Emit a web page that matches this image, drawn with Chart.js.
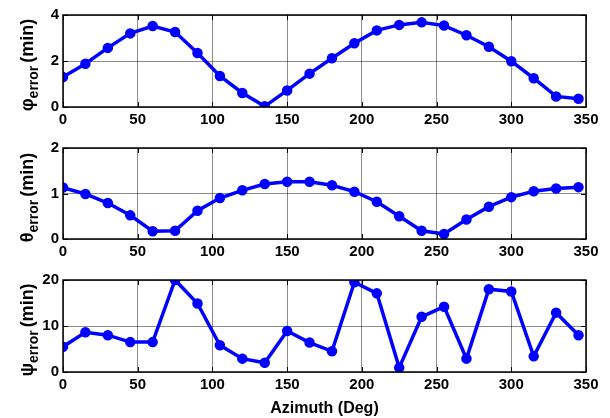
<!DOCTYPE html>
<html>
<head>
<meta charset="utf-8">
<script src="https://cdn.jsdelivr.net/npm/chart.js@4.4.1/dist/chart.umd.min.js"></script>
<style>
  body { margin: 0; background: #fff; }
  .panel { position: absolute; left: 0; }
</style>
</head>
<body>
<div class="panel" style="top:0"><canvas id="phiChart" width="610" height="130"></canvas></div>
<div class="panel" style="top:130px"><canvas id="thetaChart" width="610" height="130"></canvas></div>
<div class="panel" style="top:260px"><canvas id="psiChart" width="610" height="158"></canvas></div>
<script>
// azimuth angles (deg)
const azimuth = [0, 15, 30, 45, 60, 75, 90, 105, 120, 135, 150, 165, 180, 195, 210, 225, 240, 255, 270, 285, 300, 315, 330, 345];

// errors in minutes
const phiError = [1.30, 1.88, 2.57, 3.20, 3.52, 3.26, 2.35, 1.35, 0.61, 0.03, 0.72, 1.45, 2.12, 2.77, 3.33, 3.57, 3.68, 3.54, 3.12, 2.62, 1.99, 1.25, 0.46, 0.36];
const thetaError = [1.13, 0.99, 0.79, 0.52, 0.17, 0.18, 0.62, 0.90, 1.07, 1.21, 1.26, 1.26, 1.18, 1.04, 0.82, 0.50, 0.18, 0.11, 0.43, 0.71, 0.92, 1.05, 1.11, 1.14];
const psiError = [5.5, 8.65, 8.0, 6.5, 6.5, 20.0, 14.9, 5.8, 2.9, 2.0, 8.9, 6.4, 4.5, 19.5, 17.1, 0.95, 12.0, 14.2, 2.9, 18.0, 17.5, 3.4, 12.9, 8.0];

// axis ticks
const xTicks = [0, 50, 100, 150, 200, 250, 300, 350];
const phiTicks = [0, 2, 4];
const thetaTicks = [0, 1, 2];
const psiTicks = [0, 10, 20];

const BLUE = 'rgb(0,0,255)';
const FONT = "'Liberation Sans', Arial, sans-serif";

// black box around the plot + small inward ticks, like matlab
const boxPlugin = {
  id: 'box',
  afterDraw(chart) {
    const { ctx, chartArea: a, scales } = chart;
    ctx.save();
    ctx.strokeStyle = '#000';
    ctx.lineWidth = 1.5;
    ctx.strokeRect(a.left, a.top, a.right - a.left, a.bottom - a.top);
    ctx.lineWidth = 1;
    ctx.beginPath();
    scales.x.ticks.forEach(t => {
      const px = Math.round(scales.x.getPixelForValue(t.value)) + 0.5;
      ctx.moveTo(px, a.bottom); ctx.lineTo(px, a.bottom - 5);
      ctx.moveTo(px, a.top); ctx.lineTo(px, a.top + 5);
    });
    scales.y.ticks.forEach(t => {
      const py = Math.round(scales.y.getPixelForValue(t.value)) + 0.5;
      ctx.moveTo(a.left, py); ctx.lineTo(a.left + 5, py);
      ctx.moveTo(a.right, py); ctx.lineTo(a.right - 5, py);
    });
    ctx.stroke();
    ctx.restore();
  }
};

// rotated y label with a subscript
const yLabelPlugin = {
  id: 'ylabel',
  afterDraw(chart, args, opts) {
    const { ctx, chartArea: a } = chart;
    const main = 'bold 18px ' + FONT;
    const sub = 'bold 14px ' + FONT;
    ctx.save();
    ctx.font = main;
    const w1 = ctx.measureText(opts.symbol).width;
    const w3 = ctx.measureText('(min)').width;
    ctx.font = sub;
    const w2 = ctx.measureText('error').width;
    const total = w1 + w2 + 3 + w3;
    ctx.translate(33, (a.top + a.bottom) / 2 + 4);
    ctx.rotate(-Math.PI / 2);
    ctx.fillStyle = '#000';
    ctx.textBaseline = 'alphabetic';
    let x = -total / 2;
    ctx.font = main;
    ctx.fillText(opts.symbol, x, 0);
    x += w1;
    ctx.font = sub;
    ctx.fillText('error', x, 5);
    x += w2 + 3;
    ctx.font = main;
    ctx.fillText('(min)', x, 0);
    ctx.restore();
  }
};

function makeChart(id, values, yTicks, symbol, padTop, xHeight, showTitle) {
  const ctx = document.getElementById(id).getContext('2d');
  return new Chart(ctx, {
    type: 'line',
    data: {
      datasets: [{
        data: azimuth.map((a, i) => ({ x: a, y: values[i] })),
        borderColor: BLUE,
        backgroundColor: BLUE,
        borderWidth: 3.5,
        pointRadius: 4.5,
        pointBorderWidth: 1.5,
        pointStyle: 'circle',
        tension: 0
      }]
    },
    options: {
      responsive: false,
      animation: false,
      layout: { padding: { top: padTop, right: 24, left: 0, bottom: 0 } },
      plugins: {
        legend: { display: false },
        tooltip: { enabled: false },
        ylabel: { symbol: symbol }
      },
      scales: {
        x: {
          type: 'linear',
          min: 0,
          max: 350,
          afterBuildTicks: s => { s.ticks = xTicks.map(v => ({ value: v })); },
          afterFit: s => { s.height = xHeight; },
          ticks: { color: '#000', font: { family: FONT, size: 15, weight: 'bold' }, padding: 4, maxRotation: 0 },
          grid: { color: 'rgba(0,0,0,0.45)', lineWidth: 1, drawTicks: false },
          border: { display: false },
          title: {
            display: showTitle,
            text: 'Azimuth (Deg)',
            color: '#000',
            font: { family: FONT, size: 16, weight: 'bold' },
            padding: { top: 1, bottom: 0 }
          }
        },
        y: {
          min: yTicks[0],
          max: yTicks[yTicks.length - 1],
          afterBuildTicks: s => { s.ticks = yTicks.map(v => ({ value: v })); },
          afterFit: s => { s.width = 63; },
          ticks: { color: '#000', font: { family: FONT, size: 15, weight: 'bold' }, padding: 4 },
          grid: { color: 'rgba(0,0,0,0.45)', lineWidth: 1, drawTicks: false },
          border: { display: false }
        }
      }
    },
    plugins: [boxPlugin, yLabelPlugin]
  });
}

makeChart('phiChart', phiError, phiTicks, 'φ', 15, 23, false);
makeChart('thetaChart', thetaError, thetaTicks, 'θ', 18, 21, false);
makeChart('psiChart', psiError, psiTicks, 'ψ', 20, 46, true);
</script>
</body>
</html>
